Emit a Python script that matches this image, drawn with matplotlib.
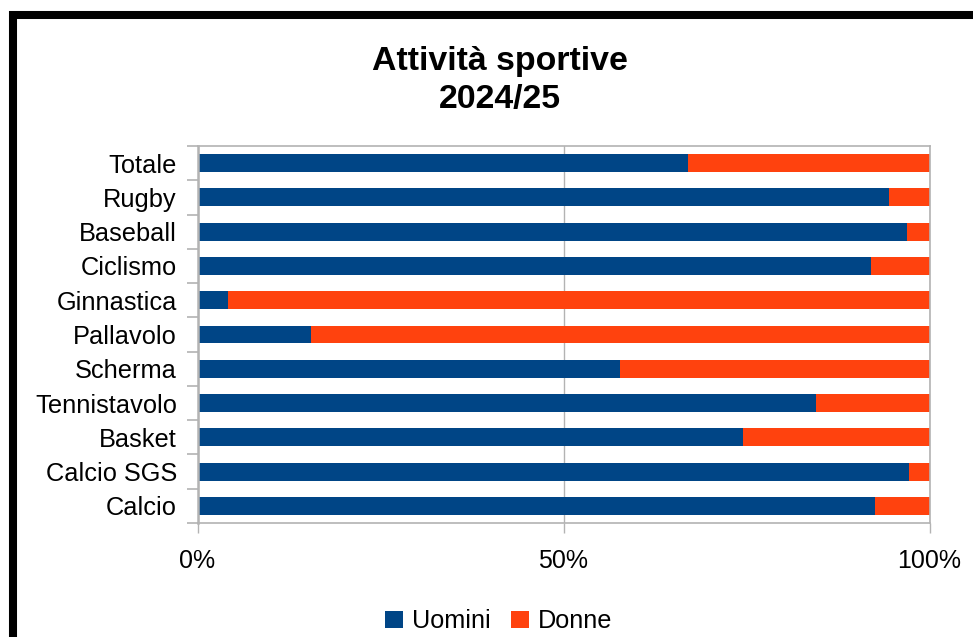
import matplotlib
matplotlib.use("Agg")
import matplotlib.pyplot as plt
from matplotlib.patches import Rectangle, Patch
from matplotlib.ticker import FixedLocator, PercentFormatter

plt.rcParams["font.family"] = ["Liberation Sans", "DejaVu Sans"]

# Shares of members per sport (percent), top to bottom
sports = ["Totale", "Rugby", "Baseball", "Ciclismo", "Ginnastica", "Pallavolo",
          "Scherma", "Tennistavolo", "Basket", "Calcio SGS", "Calcio"]
uomini = [67.0, 94.5, 96.9, 92.0, 4.2, 15.5, 57.7, 84.5, 74.5, 97.2, 92.6]
donne = [33.0, 5.5, 3.1, 8.0, 95.8, 84.5, 42.3, 15.5, 25.5, 2.8, 7.4]
x_ticks = [0, 50, 100]

BLUE = "#004586"
ORANGE = "#ff420e"
GRID = "#b3b3b3"

W, H = 973, 637
fig = plt.figure(figsize=(W / 100, H / 100), dpi=100)
ax = fig.add_axes([197.5 / W, (H - 523) / H, 732 / W, 377 / H])

pos = list(range(len(sports)))
ax.barh(pos, uomini, height=0.525, color=BLUE, label="Uomini", zorder=2)
ax.barh(pos, donne, left=uomini, height=0.525, color=ORANGE, label="Donne", zorder=2)

ax.set_xlim(0, 100)
ax.set_ylim(len(sports) - 0.5, -0.5)

ax.set_xticks(x_ticks)
ax.xaxis.set_major_formatter(PercentFormatter(decimals=0))
ax.set_yticks(pos)
ax.set_yticklabels(sports)
ax.yaxis.set_minor_locator(FixedLocator([p - 0.5 for p in range(len(sports) + 1)]))

ax.tick_params(axis="y", which="major", length=0, pad=14.8, labelsize=18.3)
ax.tick_params(axis="y", which="minor", length=8, width=1.2, color=GRID)
ax.tick_params(axis="x", which="major", length=7.2, width=1.0, color=GRID,
               pad=11.5, labelsize=18)

ax.grid(axis="x", color=GRID, linewidth=1.0, zorder=0)
ax.set_axisbelow(True)
for side in ["left", "right", "top", "bottom"]:
    ax.spines[side].set_color(GRID)
    ax.spines[side].set_linewidth(1.2)
ax.spines["left"].set_linewidth(1.8)

fig.text(500 / W, 1 - 70 / H, "Attività sportive", ha="center", va="baseline",
         fontsize=24.4, fontweight="bold")
fig.text(500 / W, 1 - 108 / H, "2024/25", ha="center", va="baseline",
         fontsize=24.4, fontweight="bold")

handles = [Patch(facecolor=BLUE, label="Uomini"), Patch(facecolor=ORANGE, label="Donne")]
fig.legend(handles=handles, loc="center", bbox_to_anchor=(499 / W, 1 - 621 / H),
           ncol=2, frameon=False, fontsize=18.2, handlelength=0.72,
           handleheight=0.65, handletextpad=0.35, columnspacing=0.8,
           borderpad=0, borderaxespad=0)

# Chart frame
fig.add_artist(Rectangle((13 / W, -0.2), 1.5, 1 - 15 / H + 0.2,
                         transform=fig.transFigure, fill=False,
                         edgecolor="black", linewidth=5.8, clip_on=False))

fig.savefig("out.png", dpi=100)
